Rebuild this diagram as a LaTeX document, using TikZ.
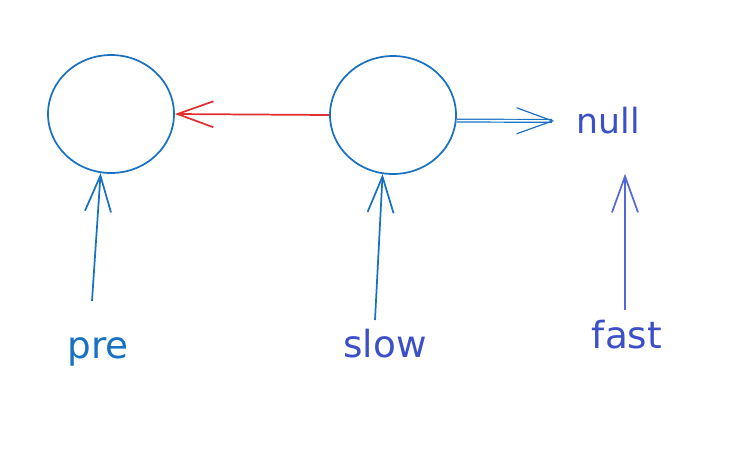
\documentclass[tikz,border=0pt]{standalone}
\usepackage{fontspec}
\setmainfont{DejaVu Sans}
\usetikzlibrary{arrows.meta,shapes.geometric}
\definecolor{skblue}{HTML}{1971C2}
\definecolor{skred}{HTML}{E03131}
\definecolor{skindigo}{HTML}{3B4FC8}
\definecolor{sklight}{HTML}{5468D8}
\begin{document}
\begin{tikzpicture}[x=0.75pt,y=-0.75pt,
    cell/.style={draw=skblue,line width=1.3pt,ellipse,
      minimum width=94.5pt,minimum height=88.5pt,inner sep=0pt},
    lbl/.style={font=\fontsize{28}{32}\selectfont,text=skindigo},
    ptr/.style={-{Straight Barb[length=27pt,width=19.5pt]},
      line width=1.3pt,draw=skblue}]
  \useasboundingbox (0,0) rectangle (755,451);
  \node[cell] (0) at (111,114) {};
  \node[cell] (1) at (393,115) {};
  \node[lbl,font=\fontsize{26}{30}\selectfont] (null) at (608,121) {null};
  \node[lbl,text=skblue] (pre) at (98,352) {pre};
  \node[lbl] (slow) at (385,344) {slow};
  \node[lbl] (fast) at (627,335) {fast};
  \coordinate (t0) at (92,301);
  \coordinate (t1) at (375,320);
  \coordinate (t2) at (625,310);
  \begin{scope}
    \draw[ptr,draw=skred] (1.west) to (0.east);
    \draw[ptr,double,double distance=1.2pt,line width=0.9pt,shorten >=13pt] (1.-5) to (null.west);
    \draw[ptr] (t0) to (0.-100);
    \draw[ptr] (t1) to (1.-100);
    \draw[ptr,draw=sklight,shorten >=26pt] (t2) to (t2 |- null.south);
  \end{scope}
\end{tikzpicture}
\end{document}
